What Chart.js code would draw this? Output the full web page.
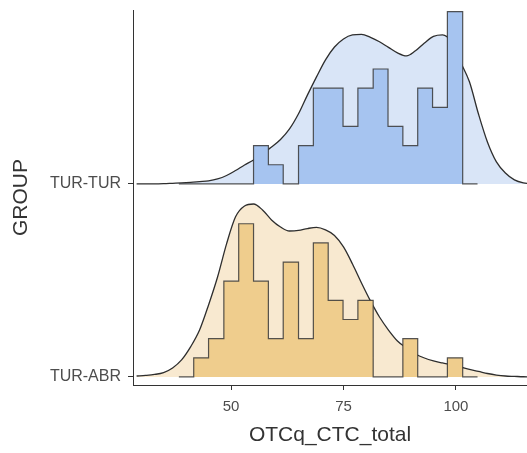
<!DOCTYPE html>
<html>
<head>
<meta charset="utf-8">
<script src="https://cdn.jsdelivr.net/npm/chart.js@4/dist/chart.umd.min.js"></script>
<style>
    html, body { margin: 0; padding: 0; background: #ffffff; }
    #wrap { width: 527px; height: 453px; }
</style>
</head>
<body>
<div id="wrap"><canvas id="ridgeChart"></canvas></div>
<script>
// Groups, bottom to top
const groups = ['TUR-ABR', 'TUR-TUR'];
const xTicks = [50, 75, 100];

// Histogram bins shared by both groups
const binEdges = [38.4, 41.7, 45.0, 48.4, 51.7, 55.0, 58.3, 61.6, 65.0, 68.3, 71.6,
                  74.9, 78.2, 81.6, 84.9, 88.2, 91.5, 94.8, 98.1, 101.5, 104.8];
const countsABR = [0, 1, 2, 5, 8, 5, 2, 6, 2, 7, 4, 3, 4, 0, 0, 2, 0, 0, 1, 0];
const countsTUR = [0, 0, 0, 0, 0, 2, 1, 0, 2, 5, 5, 3, 5, 6, 3, 2, 5, 4, 9, 0];

// Density curves (scaled to histogram counts)
const densityX = [29, 31, 33, 35, 37, 39, 41, 43, 45, 47, 49, 51, 53, 55, 57, 59, 61, 63, 65, 67,
                  69, 71, 73, 75, 77, 79, 81, 83, 85, 87, 89, 91, 93, 95, 97, 99, 101, 103, 105,
                  107, 109, 111, 113, 115, 117];
const densityABR = [0.05, 0.08, 0.13, 0.23, 0.47, 0.89, 1.57, 2.45, 3.76, 5.22, 6.95, 8.36, 8.93,
                    9.03, 8.72, 8.20, 7.83, 7.62, 7.65, 7.75, 7.81, 7.68, 7.39, 6.79, 5.90, 4.91,
                    3.97, 3.13, 2.45, 1.88, 1.51, 1.20, 0.99, 0.84, 0.73, 0.63, 0.52, 0.39, 0.29,
                    0.18, 0.10, 0.05, 0.03, 0.01, 0];
const densityTUR = [0, 0, 0, 0.01, 0.03, 0.05, 0.08, 0.12, 0.16, 0.26, 0.44, 0.70, 0.99, 1.25,
                    1.59, 1.93, 2.32, 2.87, 3.66, 4.65, 5.59, 6.48, 7.15, 7.57, 7.78, 7.81, 7.65,
                    7.42, 7.13, 6.84, 6.68, 6.95, 7.36, 7.70, 7.78, 7.42, 6.37, 5.33, 3.66, 2.19,
                    1.15, 0.57, 0.21, 0.05, 0];

// Vertical distance between ridge baselines, in count units
const GROUP_STEP = 10.08;
const FONT = "'Liberation Sans', Arial, sans-serif";

function histPoints(counts, base) {
    const pts = [{ x: binEdges[0], y: base }];
    counts.forEach((c, i) => pts.push({ x: binEdges[i], y: base + c }));
    pts.push({ x: binEdges[binEdges.length - 1], y: base });
    return pts;
}

function densityPoints(values, base) {
    return densityX.map((x, i) => ({ x: x, y: base + values[i] }));
}

function densitySet(values, base, fillColor, order) {
    return {
        data: densityPoints(values, base),
        borderColor: '#2e2e2e',
        borderWidth: 1.3,
        backgroundColor: fillColor,
        fill: { value: base },
        pointRadius: 0,
        cubicInterpolationMode: 'monotone',
        order: order
    };
}

function histSet(counts, base, fillColor, order) {
    return {
        data: histPoints(counts, base),
        borderColor: 'rgba(55,55,55,0.85)',
        borderWidth: 1.2,
        backgroundColor: fillColor,
        fill: { value: base },
        pointRadius: 0,
        stepped: true,
        order: order
    };
}

const ctx = document.getElementById('ridgeChart');

new Chart(ctx, {
    type: 'line',
    data: {
        datasets: [
            densitySet(densityABR, 0, '#f8e9d0', 4),
            histSet(countsABR, 0, '#efcd8d', 3),
            densitySet(densityTUR, GROUP_STEP, '#d9e5f7', 2),
            histSet(countsTUR, GROUP_STEP, '#a6c4f0', 1)
        ]
    },
    options: {
        responsive: true,
        maintainAspectRatio: false,
        animation: false,
        layout: { padding: { top: 10, right: 0, bottom: 0, left: 0 } },
        plugins: {
            legend: { display: false },
            tooltip: { enabled: false }
        },
        scales: {
            x: {
                type: 'linear',
                min: 28.2,
                max: 115.8,
                afterBuildTicks: (scale) => {
                    scale.ticks = xTicks.map(v => ({ value: v }));
                },
                afterFit: (scale) => {
                    scale.height = 68;
                    scale.paddingLeft = 0;
                    scale.paddingRight = 0;
                },
                border: { display: true, color: '#333333', width: 1 },
                grid: { drawOnChartArea: false, drawTicks: true, tickLength: 5, color: '#333333' },
                ticks: {
                    color: '#4d4d4d',
                    padding: 8,
                    maxRotation: 0,
                    font: { family: FONT, size: 15 }
                },
                title: {
                    display: true,
                    text: 'OTCq_CTC_total',
                    color: '#333333',
                    padding: { top: 0, bottom: 5 },
                    font: { family: FONT, size: 21 }
                }
            },
            y: {
                type: 'linear',
                min: -0.42,
                max: 19.16,
                afterBuildTicks: (scale) => {
                    scale.ticks = groups.map((g, i) => ({ value: i * GROUP_STEP }));
                },
                afterFit: (scale) => {
                    scale.width = 133;
                    scale.paddingTop = 0;
                    scale.paddingBottom = 0;
                },
                border: { display: true, color: '#333333', width: 1 },
                grid: { drawOnChartArea: false, drawTicks: true, tickLength: 5, color: '#333333' },
                ticks: {
                    color: '#4d4d4d',
                    padding: 7,
                    font: { family: FONT, size: 16 },
                    callback: (value, index) => groups[index]
                },
                title: {
                    display: true,
                    text: 'GROUP',
                    color: '#333333',
                    padding: { top: 9, bottom: 0 },
                    font: { family: FONT, size: 21 }
                }
            }
        }
    }
});
</script>
</body>
</html>
